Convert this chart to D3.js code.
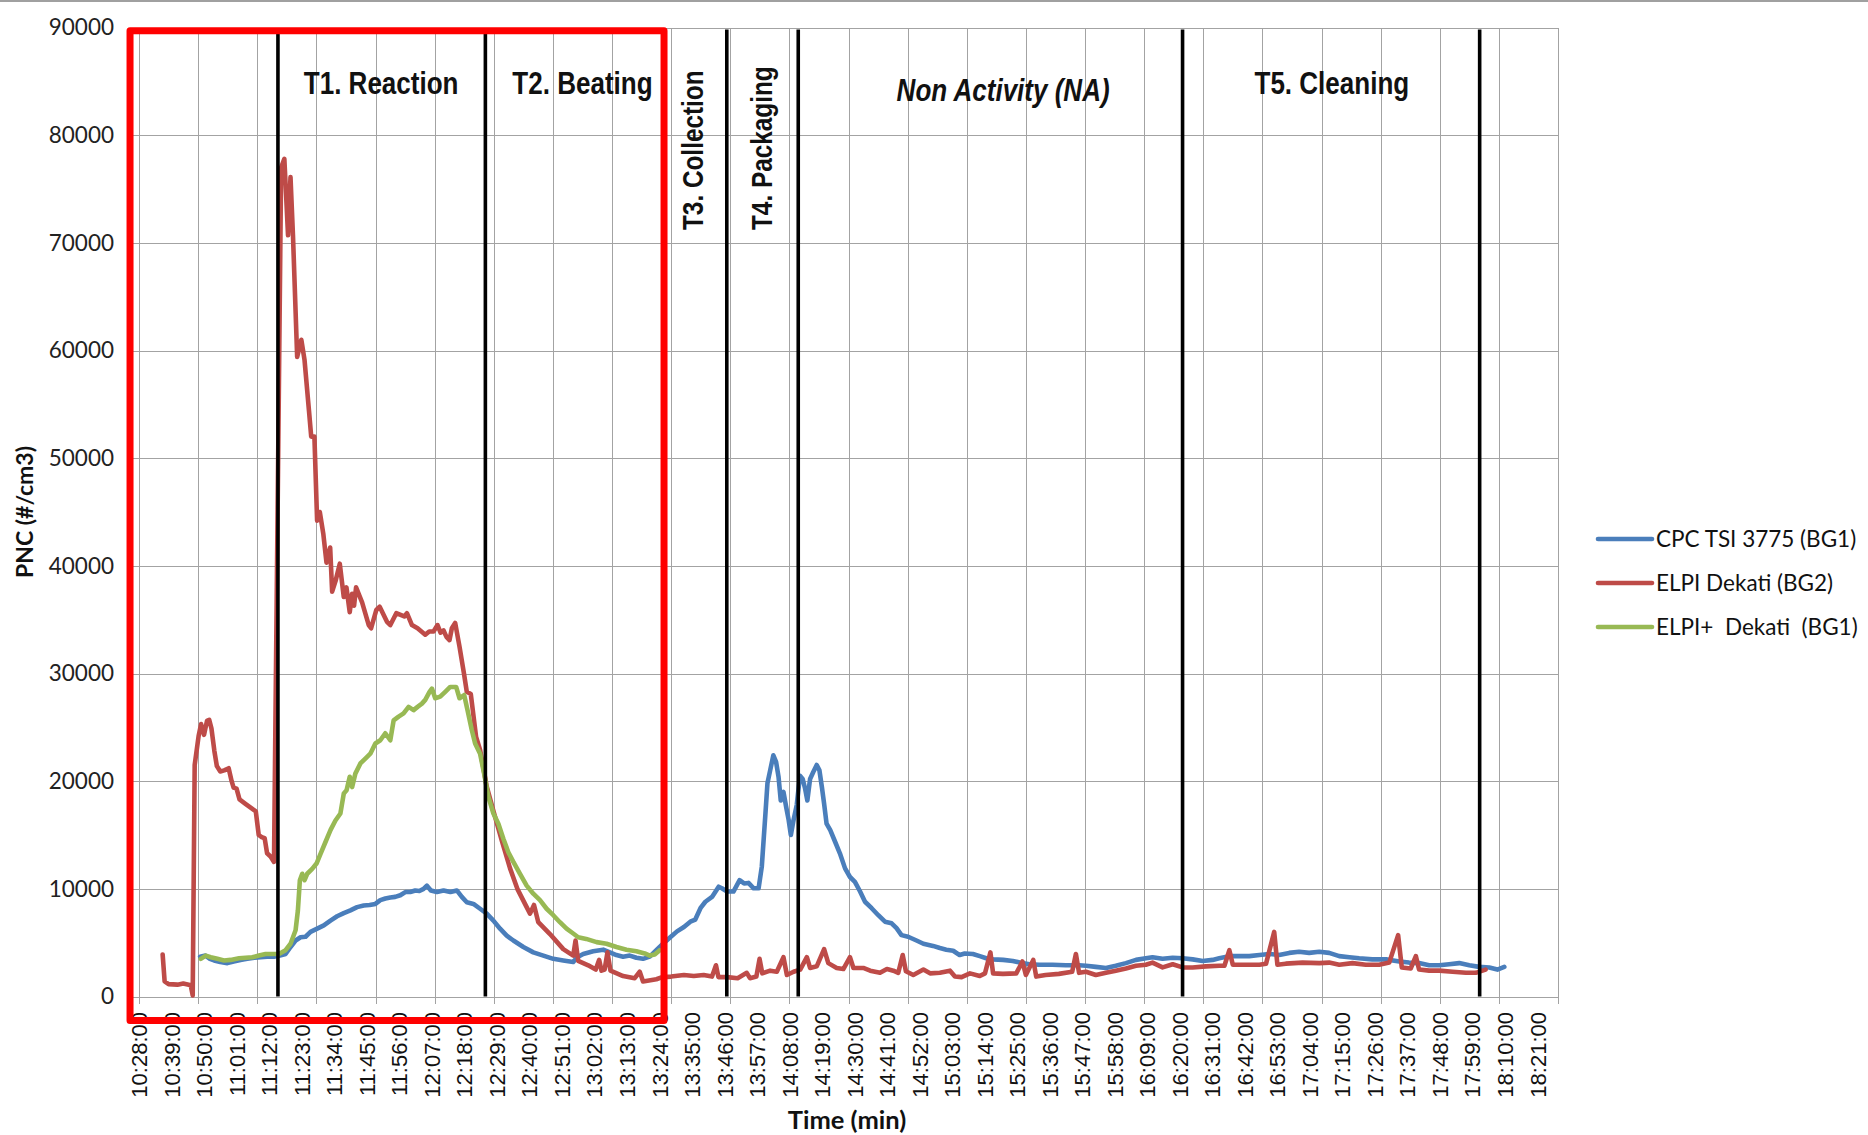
<!DOCTYPE html>
<html>
<head>
<meta charset="utf-8">
<title>PNC time series</title>
<script src="https://cdn.jsdelivr.net/npm/d3@7"></script>
<style>
  html, body { margin: 0; padding: 0; background: #fff; }
  svg { display: block; }
  .grid line { stroke: #a3a3a3; stroke-width: 1.2; shape-rendering: crispEdges; }
  .tick-x text { font-family: "Liberation Sans", Arial, sans-serif; font-size: 22px; fill: #111; }
  .tick-y text { font-family: Lato, "Open Sans", sans-serif; font-size: 22.5px; fill: #222; }
  .axis-title { font-family: Lato, "Open Sans", sans-serif; font-weight: bold; fill: #111; }
  /* Arial Narrow look-alike: bold Liberation Sans squeezed along the baseline */
  .phase-label { font-family: "Liberation Sans", Arial, sans-serif; font-weight: bold; fill: #111; }
  .legend text { font-family: Lato, "Open Sans", sans-serif; font-size: 22.5px; fill: #111; white-space: pre; }
</style>
</head>
<body>
<svg id="chart" width="1868" height="1135"></svg>
<script>
// ---- data (time of day, PNC #/cm3) ----
const cpcData = [
  ["10:48:40", 3700], ["10:50:30", 3800], ["10:52:00", 3500], ["10:53:24", 3350], ["10:55:30", 3200],
  ["10:57:54", 3100], ["11:00:00", 3250], ["11:02:20", 3400], ["11:04:39", 3500], ["11:07:00", 3600],
  ["11:09:09", 3650], ["11:11:20", 3700], ["11:13:39", 3700], ["11:15:40", 3800], ["11:17:35", 3950],
  ["11:19:16", 4600], ["11:20:58", 5200], ["11:22:39", 5500], ["11:24:20", 5550], ["11:26:01", 6000],
  ["11:28:16", 6300], ["11:30:31", 6600], ["11:32:46", 7050], ["11:35:01", 7450], ["11:37:16", 7750],
  ["11:39:31", 8000], ["11:41:46", 8300], ["11:44:01", 8450], ["11:46:00", 8500], ["11:47:58", 8600],
  ["11:49:38", 8950], ["11:51:20", 9100], ["11:53:01", 9200], ["11:54:40", 9250], ["11:56:23", 9400],
  ["11:58:05", 9700], ["11:59:45", 9700], ["12:01:27", 9850], ["12:02:50", 9800], ["12:04:16", 10000],
  ["12:05:23", 10300], ["12:06:44", 9850], ["12:08:46", 9700], ["12:11:01", 9850], ["12:13:20", 9700],
  ["12:15:31", 9850], ["12:17:12", 9250], ["12:18:53", 8750], ["12:21:08", 8600], ["12:23:23", 8150],
  ["12:25:38", 7700], ["12:27:53", 7050], ["12:30:08", 6300], ["12:32:23", 5650], ["12:34:38", 5200],
  ["12:38:01", 4600], ["12:41:23", 4100], ["12:44:46", 3800], ["12:48:08", 3500], ["12:51:31", 3350],
  ["12:54:53", 3200], ["12:56:14", 3650], ["12:58:16", 3950], ["13:01:38", 4200], ["13:05:01", 4350],
  ["13:07:16", 4100], ["13:09:30", 3850], ["13:11:45", 3700], ["13:14:00", 3800], ["13:16:16", 3600],
  ["13:18:30", 3500], ["13:20:46", 3700], ["13:23:00", 4300], ["13:25:16", 4900], ["13:27:31", 5450],
  ["13:30:00", 6050], ["13:32:20", 6450], ["13:34:30", 6950], ["13:36:10", 7150], ["13:37:55", 8200],
  ["13:39:35", 8800], ["13:41:50", 9250], ["13:44:05", 10200], ["13:45:10", 10050], ["13:46:55", 9750],
  ["13:49:05", 9750], ["13:51:10", 10800], ["13:52:40", 10500], ["13:54:10", 10550], ["13:55:55", 10050],
  ["13:57:35", 10050], ["13:58:40", 12050], ["13:59:50", 16700], ["14:00:35", 19800], ["14:01:30", 21000],
  ["14:02:35", 22400], ["14:03:30", 21800], ["14:04:20", 20400], ["14:05:05", 18200], ["14:06:00", 19000],
  ["14:06:55", 17600], ["14:07:45", 16400], ["14:08:30", 15000], ["14:09:25", 16400], ["14:10:30", 17800],
  ["14:11:35", 20500], ["14:12:30", 20200], ["14:13:20", 19300], ["14:14:05", 18200], ["14:15:00", 20200],
  ["14:16:05", 20850], ["14:17:15", 21500], ["14:18:10", 21000], ["14:19:00", 19450], ["14:19:45", 17900],
  ["14:20:35", 16050], ["14:21:50", 15450], ["14:23:30", 14350], ["14:25:05", 13300], ["14:26:50", 11900],
  ["14:28:30", 11100], ["14:30:10", 10650], ["14:31:55", 9750], ["14:33:35", 8800], ["14:35:50", 8200],
  ["14:38:05", 7550], ["14:40:20", 6950], ["14:42:35", 6800], ["14:44:15", 6350], ["14:45:55", 5700],
  ["14:48:10", 5550], ["14:51:00", 5200], ["14:53:20", 4900], ["14:56:35", 4700], ["14:58:55", 4500],
  ["15:01:05", 4350], ["15:03:25", 4250], ["15:05:35", 3850], ["15:07:20", 4000], ["15:10:05", 3950],
  ["15:12:25", 3750], ["15:14:35", 3550], ["15:16:55", 3450], ["15:20:20", 3400], ["15:23:35", 3300],
  ["15:25:55", 3150], ["15:29:10", 3000], ["15:32:30", 2950], ["15:37:00", 2950], ["15:41:30", 2900],
  ["15:46:00", 2900], ["15:48:20", 2850], ["15:51:40", 2750], ["15:55:05", 2650], ["15:58:25", 2850],
  ["16:01:50", 3100], ["16:05:15", 3400], ["16:08:35", 3550], ["16:10:50", 3650], ["16:14:15", 3500],
  ["16:17:40", 3600], ["16:21:00", 3550], ["16:24:25", 3450], ["16:27:50", 3300], ["16:31:10", 3400],
  ["16:33:25", 3550], ["16:36:50", 3750], ["16:40:15", 3750], ["16:43:35", 3750], ["16:47:00", 3850],
  ["16:50:20", 3950], ["16:53:40", 3850], ["16:57:05", 4050], ["17:00:25", 4150], ["17:03:50", 4050],
  ["17:07:15", 4150], ["17:10:35", 4050], ["17:14:00", 3750], ["17:17:25", 3650], ["17:20:45", 3550],
  ["17:25:10", 3450], ["17:29:50", 3450], ["17:34:20", 3250], ["17:37:35", 3150], ["17:41:00", 3100],
  ["17:44:25", 2900], ["17:47:50", 2900], ["17:51:10", 3000], ["17:54:35", 3100], ["17:58:00", 2900],
  ["18:01:20", 2750], ["18:04:45", 2700], ["18:07:30", 2500], ["18:09:50", 2750]
];

const elpiData = [
  ["10:36:00", 3900], ["10:36:40", 1400], ["10:38:00", 1150], ["10:41:00", 1100], ["10:43:00", 1200],
  ["10:45:30", 1050], ["10:46:10", 100], ["10:46:50", 21500], ["10:48:10", 24200], ["10:49:00", 25300],
  ["10:50:00", 24300], ["10:51:00", 25600], ["10:51:45", 25700], ["10:52:30", 24900], ["10:53:30", 22800],
  ["10:54:20", 21400], ["10:55:30", 20900], ["10:56:50", 21000], ["10:58:20", 21200], ["10:59:20", 20000],
  ["11:00:00", 19400], ["11:01:00", 19300], ["11:02:00", 18300], ["11:04:00", 17900], ["11:06:00", 17500],
  ["11:07:30", 17200], ["11:08:30", 15000], ["11:09:30", 14800], ["11:10:30", 14700], ["11:11:20", 13300],
  ["11:12:30", 13000], ["11:13:40", 12500], ["11:16:05", 77000], ["11:17:10", 77800], ["11:18:25", 70700],
  ["11:19:15", 76100], ["11:20:05", 70700], ["11:21:30", 59400], ["11:22:55", 61000], ["11:24:00", 59100],
  ["11:25:30", 54400], ["11:26:15", 52000], ["11:27:20", 52000], ["11:28:15", 44200], ["11:29:10", 45000],
  ["11:30:20", 43000], ["11:31:25", 40300], ["11:32:40", 41700], ["11:33:20", 37600], ["11:34:30", 38600],
  ["11:35:55", 40200], ["11:37:16", 37100], ["11:38:10", 38000], ["11:39:17", 35700], ["11:40:05", 37400],
  ["11:40:45", 36300], ["11:41:26", 38000], ["11:43:28", 36600], ["11:45:43", 34500], ["11:46:30", 34200],
  ["11:48:17", 35900], ["11:49:25", 36200], ["11:51:53", 34800], ["11:53:01", 34500], ["11:55:02", 35600],
  ["11:57:44", 35300], ["11:58:38", 35600], ["12:00:20", 34500], ["12:02:14", 34200], ["12:04:50", 33600],
  ["12:06:10", 33900], ["12:07:38", 33900], ["12:08:59", 34500], ["12:10:00", 33800], ["12:11:01", 34000],
  ["12:12:00", 33400], ["12:13:02", 33100], ["12:13:50", 34200], ["12:14:57", 34700], ["12:16:25", 32500],
  ["12:17:59", 29900], ["12:18:53", 28300], ["12:20:14", 28100], ["12:22:02", 24100], ["12:23:23", 22900],
  ["12:25:38", 19500], ["12:28:07", 17000], ["12:30:42", 14500], ["12:33:31", 11900], ["12:35:59", 10000],
  ["12:39:08", 8300], ["12:40:16", 7700], ["12:41:37", 8500], ["12:43:04", 6900], ["12:47:01", 5800],
  ["12:51:31", 4400], ["12:54:53", 3800], ["12:55:40", 5200], ["12:56:34", 3300], ["12:59:57", 2900],
  ["13:02:30", 2500], ["13:03:40", 3400], ["13:04:27", 2400], ["13:05:30", 2500], ["13:06:28", 4100],
  ["13:07:29", 2400], ["13:11:45", 1900], ["13:15:41", 1700], ["13:17:23", 2300], ["13:18:30", 1400],
  ["13:23:00", 1600], ["13:25:00", 1800], ["13:28:00", 1850], ["13:32:20", 2000], ["13:35:40", 1900],
  ["13:39:00", 2000], ["13:41:50", 1850], ["13:43:10", 2900], ["13:44:00", 1800], ["13:47:00", 1800],
  ["13:50:30", 1700], ["13:53:35", 2200], ["13:54:40", 1700], ["13:56:50", 1850], ["13:57:55", 3500],
  ["13:58:50", 2150], ["14:01:30", 2400], ["14:03:45", 2300], ["14:06:00", 3650], ["14:07:10", 2000],
  ["14:09:25", 2300], ["14:11:40", 2500], ["14:13:55", 3650], ["14:15:00", 2650], ["14:17:15", 2800],
  ["14:19:45", 4400], ["14:21:10", 3100], ["14:24:00", 2650], ["14:26:15", 2550], ["14:28:30", 3650],
  ["14:29:40", 2650], ["14:33:00", 2650], ["14:35:20", 2400], ["14:38:40", 2200], ["14:41:00", 2550],
  ["14:43:10", 2400], ["14:44:50", 2200], ["14:46:20", 3850], ["14:47:25", 2350], ["14:49:55", 2000],
  ["14:53:20", 2500], ["14:55:35", 2150], ["14:58:55", 2200], ["15:02:20", 2400], ["15:04:00", 1850],
  ["15:06:15", 1800], ["15:09:05", 2150], ["15:12:25", 1900], ["15:14:10", 2150], ["15:16:00", 4100],
  ["15:16:55", 2150], ["15:20:15", 2100], ["15:24:45", 2150], ["15:26:50", 3250], ["15:28:00", 2000],
  ["15:30:30", 3400], ["15:31:30", 1850], ["15:34:40", 2000], ["15:39:10", 2100], ["15:43:40", 2300],
  ["15:44:55", 3950], ["15:46:00", 2200], ["15:48:20", 2300], ["15:51:40", 2000], ["15:55:05", 2200],
  ["15:58:25", 2400], ["16:01:50", 2600], ["16:05:15", 2850], ["16:08:35", 2950], ["16:10:50", 3150],
  ["16:14:15", 2700], ["16:17:40", 3000], ["16:21:00", 2700], ["16:24:25", 2700], ["16:28:55", 2800],
  ["16:33:25", 2850], ["16:35:10", 2850], ["16:36:50", 4300], ["16:38:00", 2950], ["16:42:30", 2950],
  ["16:47:00", 2950], ["16:49:15", 3050], ["16:52:00", 6000], ["16:53:05", 2950], ["16:55:55", 3050],
  ["17:01:35", 3150], ["17:07:15", 3100], ["17:10:35", 3150], ["17:14:00", 2950], ["17:18:30", 3100],
  ["17:23:00", 2950], ["17:27:30", 2950], ["17:30:55", 3150], ["17:33:55", 5700], ["17:35:10", 2700],
  ["17:38:10", 2600], ["17:39:55", 3750], ["17:41:00", 2500], ["17:44:25", 2400], ["17:47:50", 2400],
  ["17:52:20", 2300], ["17:56:50", 2200], ["18:00:10", 2200], ["18:03:30", 2500]
];

const elpiPlusData = [
  ["10:48:54", 3500], ["10:50:35", 3800], ["10:52:16", 3650], ["10:54:31", 3500], ["10:56:46", 3350],
  ["10:59:01", 3400], ["11:01:50", 3550], ["11:04:05", 3600], ["11:06:20", 3650], ["11:08:35", 3800],
  ["11:10:50", 3950], ["11:13:05", 3950], ["11:15:20", 3950], ["11:17:35", 4300], ["11:19:16", 4900],
  ["11:20:58", 6150], ["11:21:45", 8000], ["11:22:25", 10800], ["11:23:13", 11400], ["11:24:00", 10800],
  ["11:24:54", 11400], ["11:26:35", 11850], ["11:28:03", 12350], ["11:29:24", 13250], ["11:31:05", 14350],
  ["11:32:46", 15450], ["11:34:27", 16350], ["11:36:08", 17000], ["11:37:16", 18850], ["11:38:13", 19150],
  ["11:39:17", 20400], ["11:40:05", 19450], ["11:41:11", 20700], ["11:42:53", 21650], ["11:44:34", 22100],
  ["11:46:15", 22550], ["11:47:57", 23500], ["11:49:38", 23800], ["11:51:19", 24450], ["11:53:00", 23800],
  ["11:54:08", 25650], ["11:55:49", 26000], ["11:57:30", 26300], ["11:59:12", 26900], ["12:00:53", 26600],
  ["12:02:14", 26900], ["12:03:42", 27200], ["12:04:50", 27550], ["12:06:17", 28300], ["12:07:05", 28600],
  ["12:08:12", 27700], ["12:09:53", 27850], ["12:11:35", 28300], ["12:13:16", 28750], ["12:15:17", 28750],
  ["12:16:25", 27700], ["12:18:00", 28000], ["12:19:07", 26600], ["12:20:34", 24750], ["12:21:42", 23500],
  ["12:23:23", 22550], ["12:24:44", 20700], ["12:26:11", 18550], ["12:27:53", 17000], ["12:29:34", 16050],
  ["12:31:15", 14650], ["12:32:56", 13400], ["12:34:38", 12500], ["12:36:53", 11400], ["12:39:08", 10300],
  ["12:41:23", 9550], ["12:43:38", 8950], ["12:45:53", 8150], ["12:48:08", 7550], ["12:50:23", 6900],
  ["12:52:38", 6300], ["12:54:53", 5850], ["12:56:34", 5500], ["12:59:16", 5350], ["13:02:47", 5050],
  ["13:06:09", 4900], ["13:09:31", 4600], ["13:12:53", 4350], ["13:16:16", 4200], ["13:19:04", 4000],
  ["13:20:46", 3800], ["13:22:27", 3900], ["13:24:08", 4300]
];

// category labels on the time axis (every 11 min)
const timeLabels = [
  "10:28:00", "10:39:00", "10:50:00", "11:01:00", "11:12:00", "11:23:00", "11:34:00", "11:45:00",
  "11:56:00", "12:07:00", "12:18:00", "12:29:00", "12:40:00", "12:51:00", "13:02:00", "13:13:00",
  "13:24:00", "13:35:00", "13:46:00", "13:57:00", "14:08:00", "14:19:00", "14:30:00", "14:41:00",
  "14:52:00", "15:03:00", "15:14:00", "15:25:00", "15:36:00", "15:47:00", "15:58:00", "16:09:00",
  "16:20:00", "16:31:00", "16:42:00", "16:53:00", "17:04:00", "17:15:00", "17:26:00", "17:37:00",
  "17:48:00", "17:59:00", "18:10:00", "18:21:00"
];
const yTicks = [0, 10000, 20000, 30000, 40000, 50000, 60000, 70000, 80000, 90000];

// task boundaries (vertical black lines) and task names
const phaseTimes = ["11:15:00", "12:25:10", "13:46:50", "14:11:00", "16:21:00", "18:01:30"];
const phaseNames = ["T1. Reaction", "T2. Beating", "T3. Collection", "T4. Packaging", "Non Activity (NA)", "T5. Cleaning"];

const seriesNames = ["CPC TSI 3775 (BG1)", "ELPI Dekati (BG2)", "ELPI+  Dekati  (BG1)"];
const seriesColors = ["#4a7ebb", "#be4b48", "#98b954"];

// ---- layout ----
const W = 1868, H = 1135;
const plot = { left: 139, right: 1558, top: 27.5, bottom: 996.5 };

const parseTime = d3.timeParse("%H:%M:%S");
const x = d3.scaleTime()
  .domain([parseTime("10:28:00"), parseTime("18:28:00")])
  .range([plot.left, plot.right]);
const y = d3.scaleLinear().domain([0, 90000]).range([plot.bottom, plot.top]);

const svg = d3.select('#chart');

// chart area border (only the top edge shows)
svg.append('line')
  .attr('x1', 0).attr('x2', W).attr('y1', 1).attr('y2', 1)
  .attr('stroke', '#a0a0a0').attr('stroke-width', 2);

// gridlines: vertical every 20 min, horizontal every 10000
const gridTimes = d3.range(0, 481, 20).map(m => d3.timeMinute.offset(x.domain()[0], m));
const grid = svg.append('g').attr('class', 'grid');
grid.selectAll('.vg')
  .data(gridTimes)
  .join('line')
  .attr('class', 'vg')
  .attr('x1', d => Math.round(x(d)) + 0.5).attr('x2', d => Math.round(x(d)) + 0.5)
  .attr('y1', plot.top).attr('y2', plot.bottom + 7);
grid.selectAll('.hg')
  .data(yTicks)
  .join('line')
  .attr('class', 'hg')
  .attr('x1', plot.left - 6).attr('x2', plot.right)
  .attr('y1', d => Math.round(y(d)) + 0.5).attr('y2', d => Math.round(y(d)) + 0.5);

// y axis labels
const yAxis = svg.append('g')
  .attr('class', 'tick-y')
  .attr('transform', `translate(${plot.left},0)`)
  .call(d3.axisLeft(y).tickValues(yTicks).tickSize(0).tickPadding(25).tickFormat(d3.format('d')));
yAxis.select('.domain').remove();

// x axis labels, rotated
const xAxis = svg.append('g')
  .attr('class', 'tick-x')
  .attr('transform', `translate(0,${plot.bottom})`)
  .call(d3.axisBottom(x).tickValues(timeLabels.map(parseTime)).tickSize(0).tickFormat(d3.timeFormat('%H:%M:%S')));
xAxis.select('.domain').remove();
xAxis.selectAll('text')
  .attr('transform', 'rotate(-90)')
  .attr('x', -15.5)
  .attr('y', 0)
  .attr('dy', '0.35em')
  .style('text-anchor', 'end');

// axis titles
svg.append('text')
  .attr('class', 'axis-title')
  .attr('transform', `translate(25,${(plot.top + plot.bottom) / 2}) rotate(-90)`)
  .attr('dy', '0.35em')
  .attr('text-anchor', 'middle')
  .style('font-size', '23px')
  .text('PNC (#/cm3)');

svg.append('text')
  .attr('class', 'axis-title')
  .attr('x', 847)
  .attr('y', 1129)
  .attr('text-anchor', 'middle')
  .style('font-size', '25.5px')
  .text('Time (min)');

// series
const series = [cpcData, elpiData, elpiPlusData].map((rows, i) => ({
  name: seriesNames[i],
  color: seriesColors[i],
  values: rows.map(([t, v]) => ({ t: parseTime(t), v }))
}));

const line = d3.line().x(d => x(d.t)).y(d => y(d.v));

svg.append('g')
  .selectAll('path')
  .data(series)
  .join('path')
  .attr('d', d => line(d.values))
  .attr('fill', 'none')
  .attr('stroke', d => d.color)
  .attr('stroke-width', 4.6)
  .attr('stroke-linejoin', 'round')
  .attr('stroke-linecap', 'round');

// task boundaries
svg.append('g')
  .selectAll('line')
  .data(phaseTimes.map(parseTime))
  .join('line')
  .attr('x1', d => x(d)).attr('x2', d => x(d))
  .attr('y1', y(90000) + 2).attr('y2', y(0))
  .attr('stroke', '#000')
  .attr('stroke-width', 3.6);

// task names: anchor time + value at the baseline (start for rotated ones, centre otherwise)
const phaseAnchors = [
  { t: "11:49:54", v: 83820, rotate: false },
  { t: "12:58:00", v: 83820, rotate: false },
  { t: "13:38:48", v: 71190, rotate: true },
  { t: "14:02:08", v: 71190, rotate: true },
  { t: "15:20:18", v: 83170, rotate: false, italic: true },
  { t: "17:11:30", v: 83820, rotate: false }
];

svg.append('g')
  .selectAll('text')
  .data(phaseAnchors)
  .join('text')
  .attr('class', 'phase-label')
  .attr('transform', d => {
    const px = x(parseTime(d.t)), py = y(d.v);
    return d.rotate
      ? `translate(${px},${py}) rotate(-90) scale(0.84,1)`
      : `translate(${px},${py}) scale(0.84,1)`;
  })
  .attr('text-anchor', d => d.rotate ? 'start' : 'middle')
  .style('font-size', d => d.rotate ? '29px' : '31px')
  .style('font-style', d => d.italic ? 'italic' : 'normal')
  .text((d, i) => phaseNames[i]);

// highlighted window (red frame)
const frame = { start: "10:24:58", end: "13:25:36", top: 89700, bottom: -2230 };
svg.append('rect')
  .attr('x', x(parseTime(frame.start)))
  .attr('y', y(frame.top))
  .attr('width', x(parseTime(frame.end)) - x(parseTime(frame.start)))
  .attr('height', y(frame.bottom) - y(frame.top))
  .attr('fill', 'none')
  .attr('stroke', '#ff0000')
  .attr('stroke-width', 7)
  .attr('stroke-linejoin', 'round');

// legend
const legend = svg.append('g')
  .attr('class', 'legend')
  .attr('transform', 'translate(1598,539)');

const item = legend.selectAll('g')
  .data(series)
  .join('g')
  .attr('transform', (d, i) => `translate(0,${i * 44})`);

item.append('line')
  .attr('x1', 0).attr('x2', 54)
  .attr('stroke', d => d.color)
  .attr('stroke-width', 4.6)
  .attr('stroke-linecap', 'round');

item.append('text')
  .attr('x', 58)
  .attr('dy', '0.35em')
  .text(d => d.name);
</script>
</body>
</html>
